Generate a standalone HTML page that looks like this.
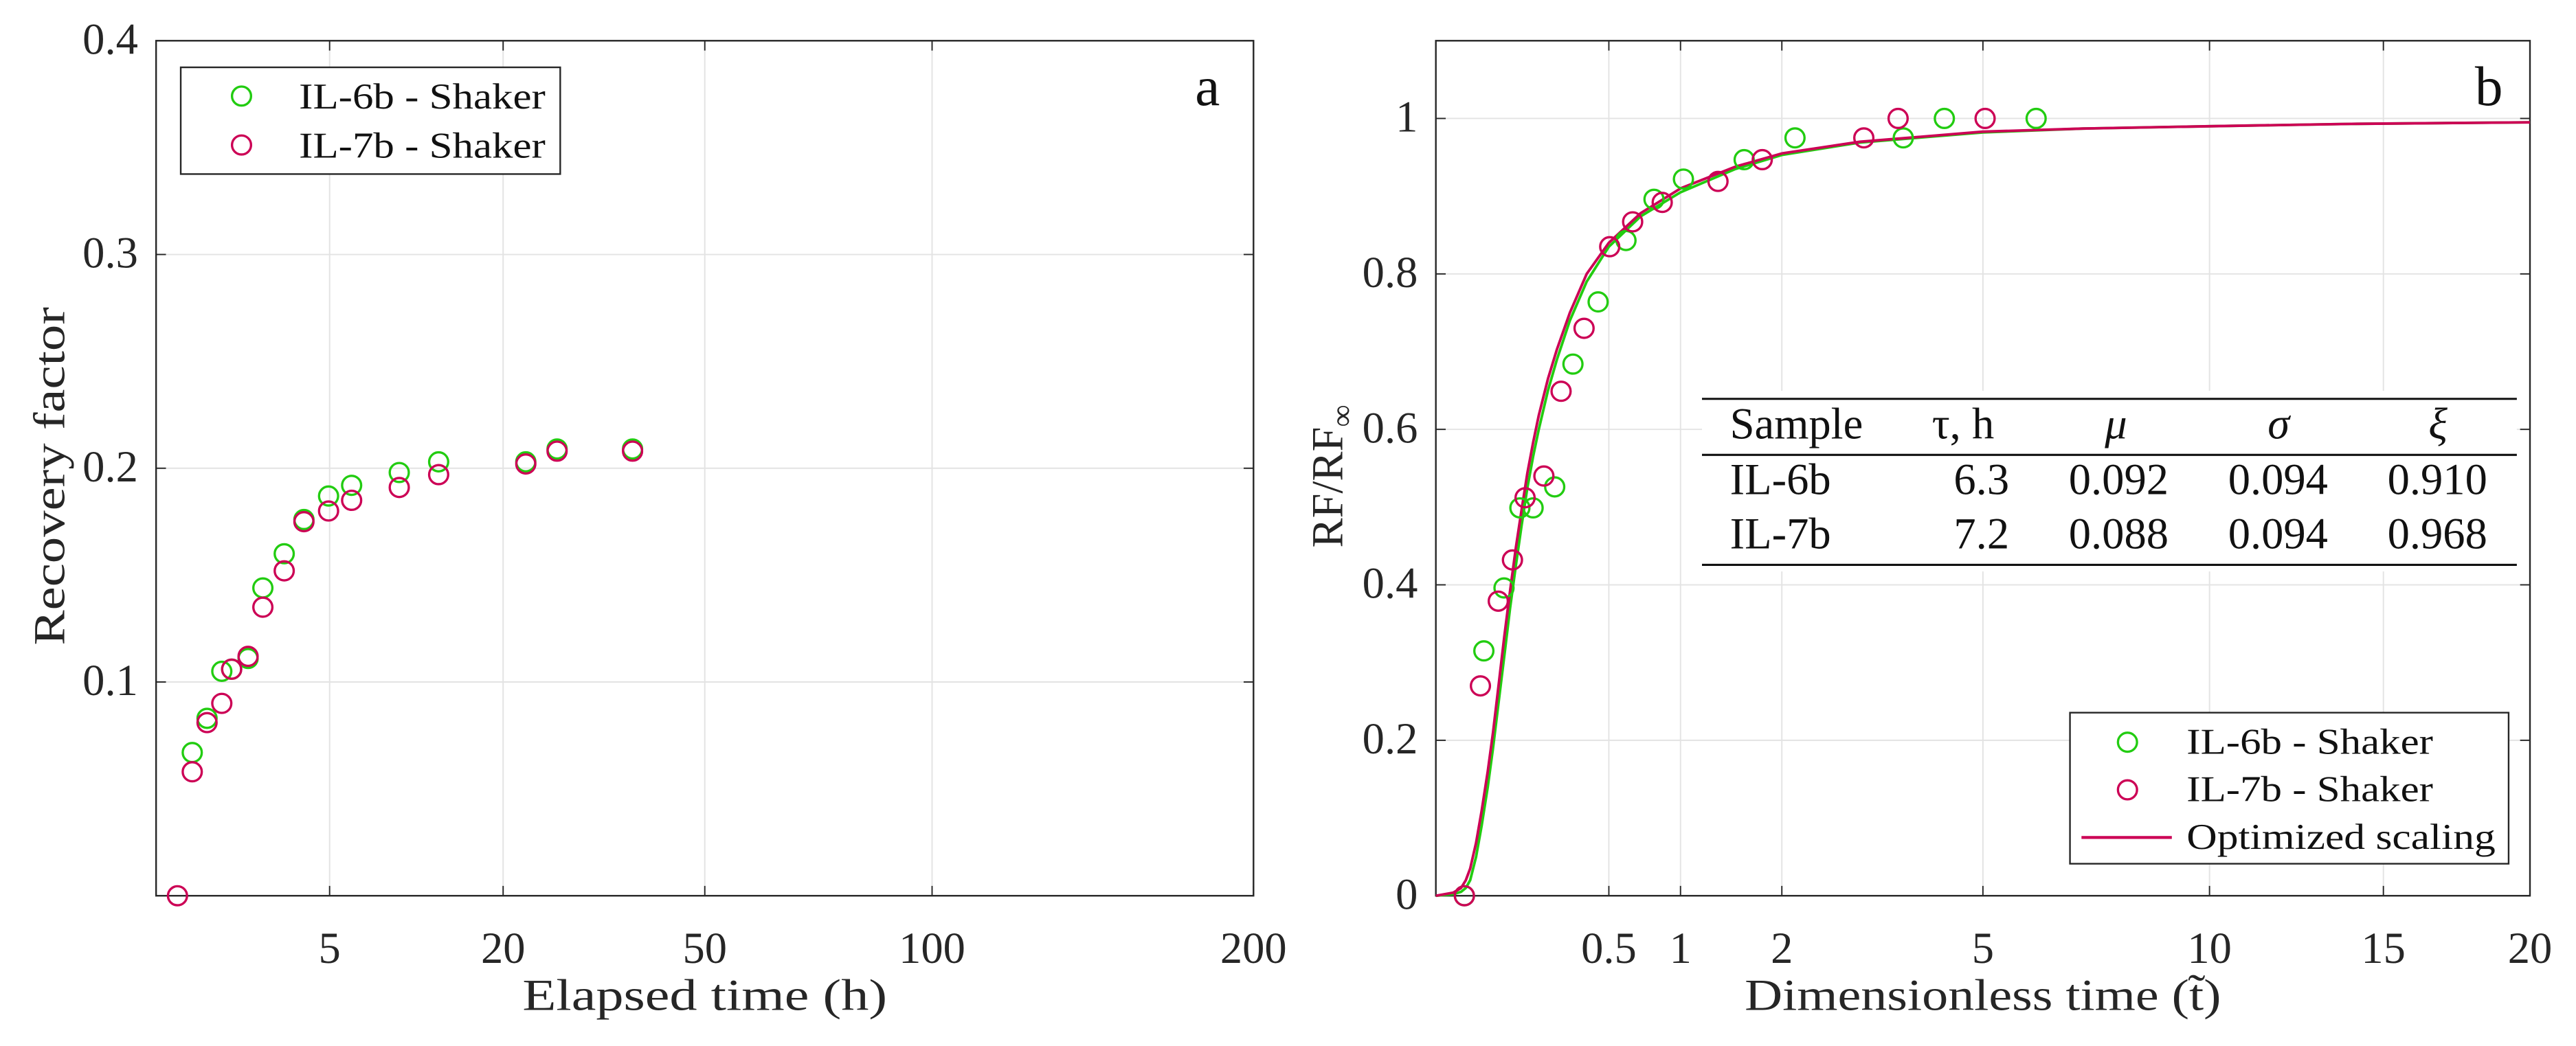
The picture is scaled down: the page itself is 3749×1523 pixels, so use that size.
<!DOCTYPE html>
<html><head><meta charset="utf-8"><style>
html,body{margin:0;padding:0;background:#fff;}
svg{display:block;}
svg text{font-family:"Liberation Serif",serif;}
</style></head><body>
<svg id="chart" width="3749" height="1523" viewBox="0 0 1568 637" font-family="Liberation Serif, serif" xmlns="http://www.w3.org/2000/svg">
<g id="pa"></g>
<g id="pb"></g>
</svg>
<script>
// ---- Panel a data ----
const aTicksX = [5, 20, 50, 100, 200];
const aTicksY = [0.1, 0.2, 0.3, 0.4];
const aTicksYLabels = ["0.1", "0.2", "0.3", "0.4"];
const aGreenT = [0.217, 0.431, 0.717, 0.948, 1.405, 1.893, 2.726, 3.63, 4.94, 6.35, 9.82, 13.26, 22.7, 26.7, 37.7];
const aGreenRF = [0.067, 0.083, 0.105, 0.106, 0.111, 0.144, 0.160, 0.176, 0.187, 0.192, 0.198, 0.203, 0.203, 0.209, 0.209];
const aRedT = [0.076, 0.217, 0.431, 0.717, 0.948, 1.405, 1.893, 2.726, 3.63, 4.94, 6.35, 9.82, 13.26, 22.7, 26.7, 37.7];
const aRedRF = [0.0, 0.058, 0.081, 0.090, 0.106, 0.112, 0.135, 0.152, 0.175, 0.180, 0.185, 0.191, 0.197, 0.202, 0.208, 0.208];
// ---- Panel b data ----
const bTicksX = [0.5, 1, 2, 5, 10, 15, 20];
const bTicksY = [0, 0.2, 0.4, 0.6, 0.8, 1];
const bTicksYLabels = ["0", "0.2", "0.4", "0.6", "0.8", "1"];
const bGreenT = [0.0136, 0.0385, 0.0776, 0.118, 0.158, 0.236, 0.314, 0.44, 0.604, 0.795, 1.024, 1.588, 2.155, 3.65, 4.32, 6.02];
const bGreenY = [0, 0.315, 0.396, 0.499, 0.499, 0.526, 0.684, 0.764, 0.843, 0.896, 0.922, 0.947, 0.975, 0.975, 1, 1];
const bRedT = [0.0136, 0.0332, 0.0651, 0.098, 0.133, 0.195, 0.262, 0.367, 0.505, 0.647, 0.856, 1.33, 1.78, 3.06, 3.57, 5.04];
const bRedY = [0, 0.27, 0.379, 0.432, 0.512, 0.54, 0.649, 0.73, 0.835, 0.867, 0.892, 0.919, 0.947, 0.975, 1, 1];
const curveT = [0, 0.005, 0.0106, 0.015, 0.0197, 0.027, 0.035, 0.045, 0.0546, 0.066, 0.0786, 0.092, 0.107, 0.123, 0.14, 0.158, 0.177, 0.21, 0.245, 0.3, 0.38, 0.5, 0.7, 1, 1.5, 2, 3, 5, 7, 10, 14, 20];
const curveRed = [0, 0.004, 0.01, 0.02, 0.035, 0.068, 0.109, 0.16, 0.21, 0.272, 0.335, 0.392, 0.448, 0.497, 0.544, 0.583, 0.618, 0.665, 0.703, 0.75, 0.80, 0.84, 0.878, 0.91, 0.938, 0.955, 0.97, 0.983, 0.987, 0.99, 0.993, 0.995];
const curveGreen = [0, 0.002, 0.005, 0.01, 0.02, 0.05, 0.09, 0.14, 0.19, 0.25, 0.31, 0.37, 0.425, 0.477, 0.525, 0.565, 0.60, 0.65, 0.69, 0.74, 0.79, 0.835, 0.874, 0.905, 0.935, 0.953, 0.969, 0.982, 0.987, 0.99, 0.993, 0.995];
const tableHead = ["Sample", "τ, h", "μ", "σ", "ξ"];
const tableRow1 = ["IL-6b", "6.3", "0.092", "0.094", "0.910"];
const tableRow2 = ["IL-7b", "7.2", "0.088", "0.094", "0.968"];

const NS = "http://www.w3.org/2000/svg";
const GREEN = "#22cc11", RED = "#cc0055", AX = "#262626", GRID = "#e3e3e3";
function mk(parent, tag, attrs, text) {
  const e = document.createElementNS(NS, tag);
  for (const k in attrs) e.setAttribute(k, attrs[k]);
  if (tag === "text") e.setAttribute("font-family", "Liberation Serif, serif");
  if (text !== undefined) e.textContent = text;
  parent.appendChild(e);
  return e;
}
const yTop = 24.8, bot = 545.5;

function panel(g, L, R, xMax, yMax, ticksX, ticksY, yLabels, name) {
  const sx = v => L + (R - L) * Math.sqrt(v) / Math.sqrt(xMax);
  const sy = v => bot - (bot - yTop) * v / yMax;
  ticksX.forEach(v => {
    const x = sx(v);
    if (x < R - 1) {
      const gl = mk(g, "line", {x1: x, x2: x, y1: yTop, y2: bot, stroke: GRID, "stroke-width": 0.8});
      
      
    }
    mk(g, "line", {x1: x, x2: x, y1: bot, y2: bot - 6, stroke: AX, "stroke-width": 0.8});
    mk(g, "line", {x1: x, x2: x, y1: yTop, y2: yTop + 6, stroke: AX, "stroke-width": 0.8});
    const tl = mk(g, "text", {x: x, y: bot + 41, "text-anchor": "middle", "font-size": 27, fill: "#262626"}, String(v));
    
    
  });
  ticksY.forEach((v, i) => {
    const y = sy(v);
    if (y > yTop + 1 && y < bot - 1) {
      const gl = mk(g, "line", {x1: L, x2: R, y1: y, y2: y, stroke: GRID, "stroke-width": 0.8});
      
      
    }
    mk(g, "line", {x1: L, x2: L + 6, y1: y, y2: y, stroke: AX, "stroke-width": 0.8});
    mk(g, "line", {x1: R, x2: R - 6, y1: y, y2: y, stroke: AX, "stroke-width": 0.8});
    const tl = mk(g, "text", {x: L - 11, y: y + 8, "text-anchor": "end", "font-size": 27, fill: "#262626"}, yLabels[i]);
    
    
  });
  return {sx, sy};
}
function box(g, L, R, name) {
  const b = mk(g, "rect", {x: L, y: yTop, width: R - L, height: bot - yTop, fill: "none", stroke: AX, "stroke-width": 1});
  
  
}
function markers(g, xs, ys, sx, sy, col, name) {
  xs.forEach((v, i) => {
    const c = mk(g, "circle", {cx: sx(v), cy: sy(ys[i]), r: 5.8, fill: "none", stroke: col, "stroke-width": 1.4});
    
    
  });
}
const FIT = {lengthAdjust: "spacingAndGlyphs"};

// ---------- Panel a ----------
const pa = document.getElementById("pa");
const A = panel(pa, 95, 763, 200, 0.4, aTicksX, aTicksY, aTicksYLabels, "panel-a");
box(pa, 95, 763, "panel-a");
markers(pa, aGreenT, aGreenRF, A.sx, A.sy, GREEN, "il6b-marker");
markers(pa, aRedT, aRedRF, A.sx, A.sy, RED, "il7b-marker");
let tx;
tx = mk(pa, "text", Object.assign({x: 429, y: 615, "text-anchor": "middle", "font-size": 27, textLength: 222, fill: "#262626"}, FIT), "Elapsed time (h)");
 
tx = mk(pa, "text", Object.assign({x: 0, y: 0, transform: "translate(39,290) rotate(-90)", "text-anchor": "middle", "font-size": 27, textLength: 206, fill: "#262626"}, FIT), "Recovery factor");
 
tx = mk(pa, "text", {x: 735, y: 64, "text-anchor": "middle", "font-size": 34, fill: "#111"}, "a");
 
const legA = mk(pa, "g", {});
 
mk(legA, "rect", {x: 110, y: 41, width: 231, height: 65, fill: "#fff", stroke: AX, "stroke-width": 1});
mk(legA, "circle", {cx: 147, cy: 58.5, r: 5.8, fill: "none", stroke: GREEN, "stroke-width": 1.4});
mk(legA, "circle", {cx: 147, cy: 88.3, r: 5.8, fill: "none", stroke: RED, "stroke-width": 1.4});
tx = mk(legA, "text", Object.assign({x: 182, y: 66, "font-size": 22, textLength: 150, fill: "#111"}, FIT), "IL-6b - Shaker");
 
tx = mk(legA, "text", Object.assign({x: 182, y: 96, "font-size": 22, textLength: 150, fill: "#111"}, FIT), "IL-7b - Shaker");
 

// ---------- Panel b ----------
const pb = document.getElementById("pb");
const B = panel(pb, 874, 1540, 20, 1.1, bTicksX, bTicksY, bTicksYLabels, "panel-b");
box(pb, 874, 1540, "panel-b");
function curve(ts, ys, col, name, w) {
  const d = ts.map((tt, i) => (i ? "L" : "M") + B.sx(tt).toFixed(2) + "," + B.sy(ys[i]).toFixed(2)).join("");
  const p = mk(pb, "path", {d: d, fill: "none", stroke: col, "stroke-width": w, "stroke-linejoin": "round"});
  
  
}
curve(curveT, curveGreen, GREEN, "il6b-fit-curve", 1.6);
curve(curveT, curveRed, RED, "il7b-fit-curve", 1.6);
markers(pb, bGreenT, bGreenY, B.sx, B.sy, GREEN, "il6b-scaled-marker");
markers(pb, bRedT, bRedY, B.sx, B.sy, RED, "il7b-scaled-marker");
tx = mk(pb, "text", Object.assign({x: 1207, y: 615, "text-anchor": "middle", "font-size": 27, textLength: 290, fill: "#262626"}, FIT), "Dimensionless time (t̃)");
 
tx = mk(pb, "text", {x: 0, y: 0, transform: "translate(817,290) rotate(-90)", "text-anchor": "middle", "font-size": 27, fill: "#262626"});
 
tx.innerHTML = 'RF/RF<tspan font-size="19" dy="6">∞</tspan>';
tx = mk(pb, "text", {x: 1515, y: 64, "text-anchor": "middle", "font-size": 34, fill: "#111"}, "b");
 

// table
const tbl = mk(pb, "g", {});
 
mk(tbl, "rect", {x: 1036, y: 238, width: 496, height: 110, fill: "#fff"});
[242.9, 277, 344].forEach(y => mk(tbl, "line", {x1: 1036, x2: 1532, y1: y, y2: y, stroke: "#111", "stroke-width": 1.3}));
const colX = [1053, 1176, 1288, 1387, 1484];
mk(tbl, "text", {x: colX[0], y: 267, "font-size": 27, fill: "#111"}, tableHead[0]);
mk(tbl, "text", {x: colX[1], y: 267, "font-size": 27, fill: "#111"}, tableHead[1]);
for (let i = 2; i < 5; i++) mk(tbl, "text", {x: colX[i], y: 267, "font-size": 27, "font-style": "italic", "text-anchor": "middle", fill: "#111"}, tableHead[i]);
const rightX = [0, 1223, 1320, 1417, 1514];
[[tableRow1, 301], [tableRow2, 334]].forEach(([row, y]) => {
  mk(tbl, "text", {x: colX[0], y: y, "font-size": 27, fill: "#111"}, row[0]);
  for (let i = 1; i < 5; i++) mk(tbl, "text", {x: rightX[i], y: y, "font-size": 27, "text-anchor": "end", fill: "#111"}, row[i]);
});

// legend b
const legB = mk(pb, "g", {});
 
mk(legB, "rect", {x: 1260, y: 434, width: 267, height: 92, fill: "#fff", stroke: AX, "stroke-width": 1});
mk(legB, "circle", {cx: 1295, cy: 452, r: 5.8, fill: "none", stroke: GREEN, "stroke-width": 1.4});
mk(legB, "circle", {cx: 1295, cy: 481, r: 5.8, fill: "none", stroke: RED, "stroke-width": 1.4});
mk(legB, "line", {x1: 1267, x2: 1322, y1: 510, y2: 510, stroke: RED, "stroke-width": 1.8});
tx = mk(legB, "text", Object.assign({x: 1331, y: 459, "font-size": 22, textLength: 150, fill: "#111"}, FIT), "IL-6b - Shaker");
 
tx = mk(legB, "text", Object.assign({x: 1331, y: 488, "font-size": 22, textLength: 150, fill: "#111"}, FIT), "IL-7b - Shaker");
 
tx = mk(legB, "text", Object.assign({x: 1331, y: 517, "font-size": 22, textLength: 188, fill: "#111"}, FIT), "Optimized scaling");
 
</script>
</body></html>
